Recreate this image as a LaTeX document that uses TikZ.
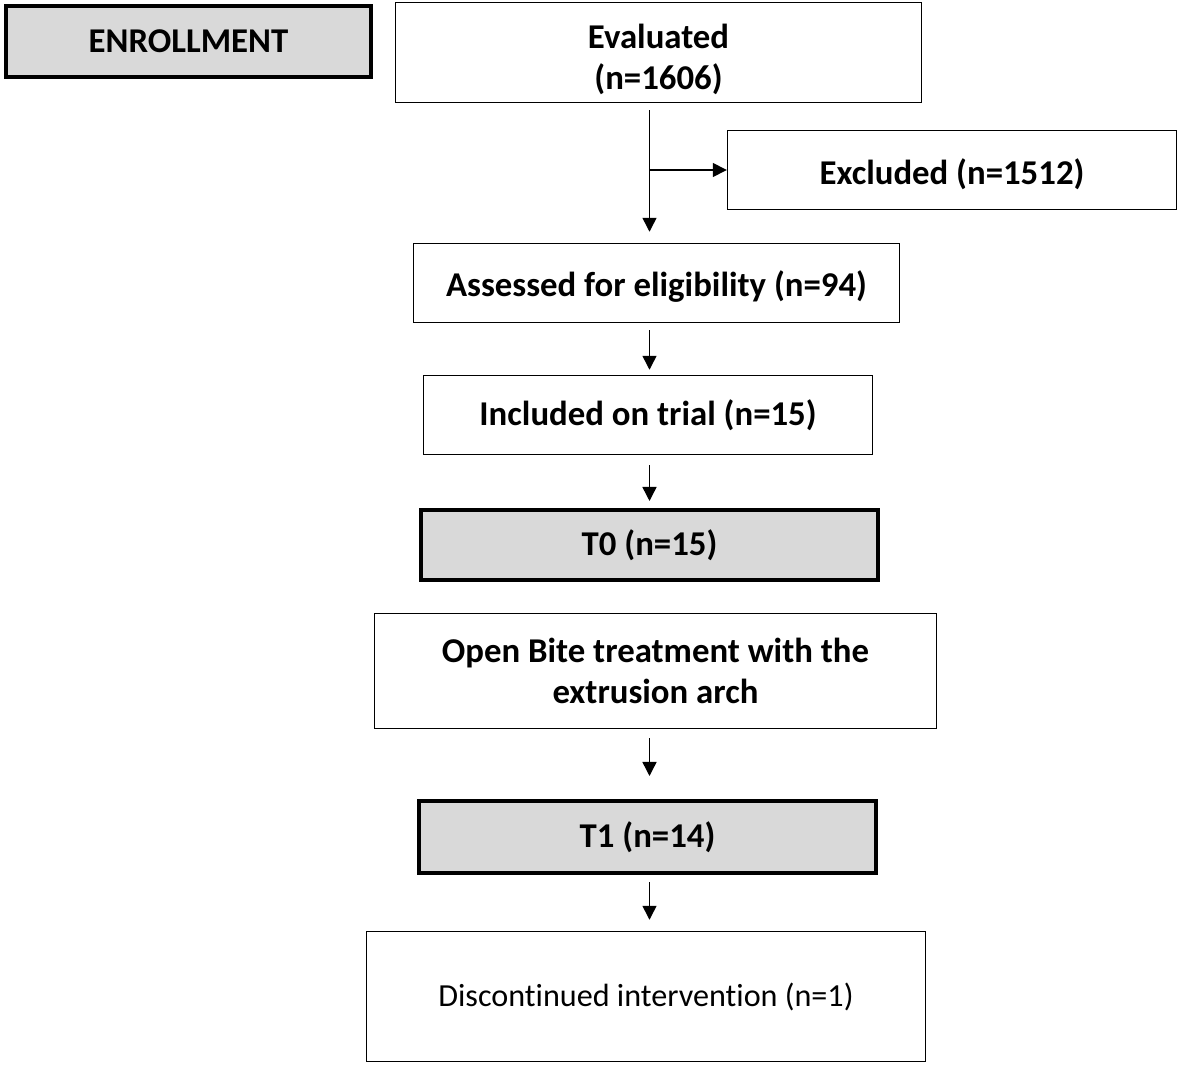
\documentclass[tikz,border=0pt]{standalone}
\usepackage{fontspec}
\setmainfont{Carlito}[Ligatures=NoCommon]
\usetikzlibrary{arrows.meta}
\definecolor{boxgray}{HTML}{D9D9D9}

\begin{document}
\begin{tikzpicture}[x=0.02cm, y=-0.02cm, >={Triangle[length=0.28cm,width=0.28cm]},
    box/.style={draw, line width=0.85pt, align=center, inner sep=0pt,
        font=\fontsize{19.8}{23.5}\selectfont\bfseries},
    stagebox/.style={box, line width=2.3pt, fill=boxgray},
    lowered/.style={text height=19pt},
    flow/.style={->, line width=0.85pt}]

    \useasboundingbox (0,0) rectangle (1181,1067);

    %define the boxes
    \node[stagebox, minimum width=7.30cm, minimum height=1.42cm] (enroll) at (188.5,41.5) {ENROLLMENT};
    \node[box, text height=45pt, minimum width=10.52cm, minimum height=2.00cm] (eval) at (658.5,52.5) {Evaluated\\(n=1606)};
    \node[box, lowered, minimum width=8.98cm, minimum height=1.58cm] (excl) at (952,170) {Excluded (n=1512)};
    \node[box, lowered, minimum width=9.72cm, minimum height=1.58cm] (assess) at (656.5,283) {Assessed for eligibility (n=94)};
    \node[box, minimum width=8.98cm, minimum height=1.58cm] (incl) at (648,415) {Included on trial (n=15)};
    \node[stagebox, minimum width=9.14cm, minimum height=1.40cm] (t0) at (649.5,545) {T0 (n=15)};
    \node[box, minimum width=11.24cm, minimum height=2.30cm] (treat) at (655.5,671) {Open Bite treatment with the\\extrusion arch};
    \node[stagebox, minimum width=9.14cm, minimum height=1.44cm] (t1) at (647.5,837) {T1 (n=14)};
    \node[box, minimum width=11.18cm, minimum height=2.60cm, font=\fontsize{18.3}{23}\selectfont] (disc) at (646,996.5) {Discontinued intervention (n=1)};

    %define the arrows
    \coordinate (spine) at (649.5,0);
    \draw[flow, shorten <=0.14cm, shorten >=0.22cm] (eval.south -| spine) -- (assess.north -| spine);
    \draw[flow] (excl.west -| spine) -- (excl.west);
    \draw[flow, shorten <=0.14cm, shorten >=0.10cm] (assess.south -| spine) -- (incl.north -| spine);
    \draw[flow, shorten <=0.20cm, shorten >=0.14cm] (incl.south -| spine) -- (t0.north -| spine);
    \draw[flow, shorten <=0.18cm, shorten >=0.46cm] (treat.south -| spine) -- (t1.north -| spine);
    \draw[flow, shorten <=0.14cm, shorten >=0.22cm] (t1.south -| spine) -- (disc.north -| spine);
\end{tikzpicture}
\end{document}
